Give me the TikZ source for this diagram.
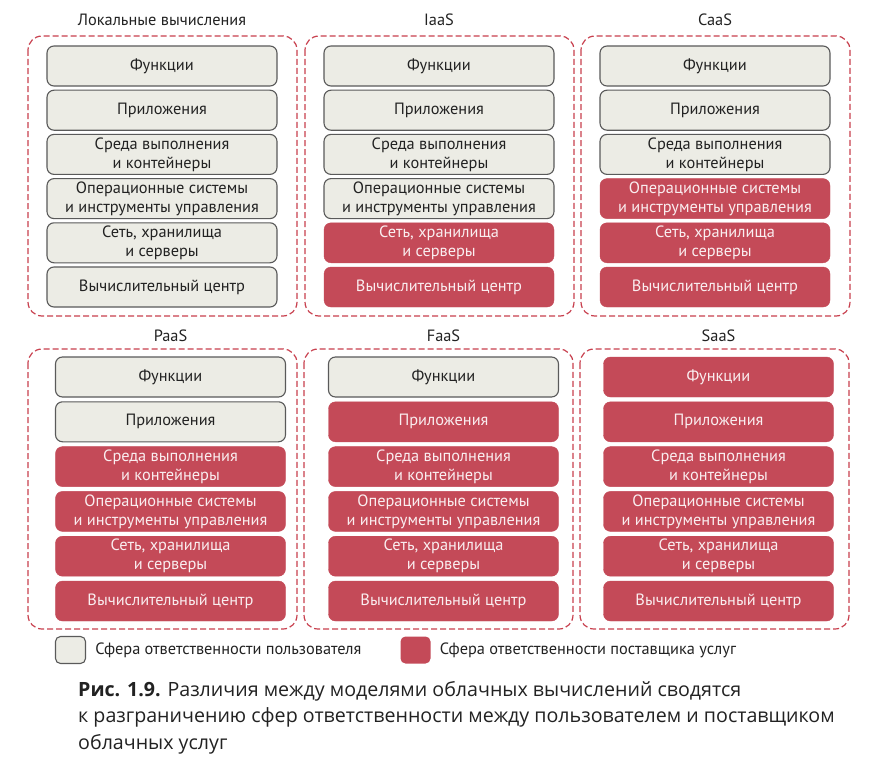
\documentclass[tikz,border=0pt]{standalone}
\usepackage{fontspec}
\usetikzlibrary{positioning}
\setmainfont{PT Sans}
\newfontfamily\captionfont{Open Sans}

\definecolor{userfill}{HTML}{ECECE5}
\definecolor{userdraw}{HTML}{5A5A5A}
\definecolor{provfill}{HTML}{C44A58}
\definecolor{provtext}{HTML}{FAEEF0}
\definecolor{framered}{HTML}{C8404E}
\definecolor{textdark}{HTML}{222222}

\tikzset{
  layer/.style={rounded corners=7bp, minimum width=230bp, minimum height=40bp,
    inner sep=0pt, align=center, font=\fontsize{16.4}{19}\selectfont},
  userlayer/.style={layer, fill=userfill, draw=userdraw, line width=1.1bp, text=textdark},
  provlayer/.style={layer, fill=provfill, draw=provfill, text=provtext},
  frame/.style={draw=framered, dash pattern=on 6bp off 3bp, line width=1.2bp, rounded corners=14bp},
  paneltitle/.style={font=\fontsize{16.4}{19}\selectfont, text=textdark},
  keybox/.style={minimum width=30bp, minimum height=27bp, inner sep=0pt, rounded corners=5bp},
  keytext/.style={font=\fontsize{16.4}{19}\selectfont, text=textdark, inner sep=0pt}
}

\begin{document}
\begin{tikzpicture}[x=1bp,y=-1bp]
\useasboundingbox (0,0) rectangle (892,773);
\fill[white] (0,0) rectangle (892,773);

% panels: name / title / frame corner / layer centre x / first layer top / pitch / user layers
\foreach \name/\title/\fx/\fy/\cx/\ty/\top/\pitch/\nuser in
  {loc/Локальные вычисления/28/36/162/20/46/44.2/6,
   iaas/IaaS/305/36/439/20/46/44.2/4,
   caas/CaaS/581/36/715/20/46/44.2/3,
   paas/PaaS/28/349/170.5/336/357/44.8/2,
   faas/FaaS/304/349/443.5/336/357/44.8/1,
   saas/SaaS/580/349/718.5/336/357/44.8/0}
{
 \node[paneltitle] (\name-title) at (\cx,\ty) {\title};
 \draw[frame] (\fx,\fy) rectangle ++(269,280);
 \foreach \txt [count=\i] in {Функции, Приложения, {Среда выполнения\\и контейнеры},
   {Операционные системы\\и инструменты управления}, {Сеть, хранилища\\и серверы},
   Вычислительный центр}
 {
  \ifnum\i>\nuser \def\kind{provlayer}\else\def\kind{userlayer}\fi
  \node[\kind] (\name-\i) at (\cx,{\top+(\i-1)*\pitch+20}) {\txt};
 }
}

% legend
\node[keybox, fill=userfill, draw=userdraw, line width=1.1bp] (userkey) at (70.5,650) {};
\node[keytext, right=9bp of userkey] (userkeytext) {Сфера ответственности пользователя};
\node[keybox, fill=provfill] (provkey) at (415.5,650) {};
\node[keytext, right=9bp of provkey] (provkeytext) {Сфера ответственности поставщика услуг};

% caption
\node[anchor=north west, align=left, inner sep=0pt, text=textdark,
  font=\captionfont\fontsize{19.7}{26.5}\selectfont] (caption) at (78,681)
  {\textbf{Рис. 1.9.} Различия между моделями облачных вычислений сводятся\\
   к разграничению сфер ответственности между пользователем и поставщиком\\
   облачных услуг};

\end{tikzpicture}
\end{document}
